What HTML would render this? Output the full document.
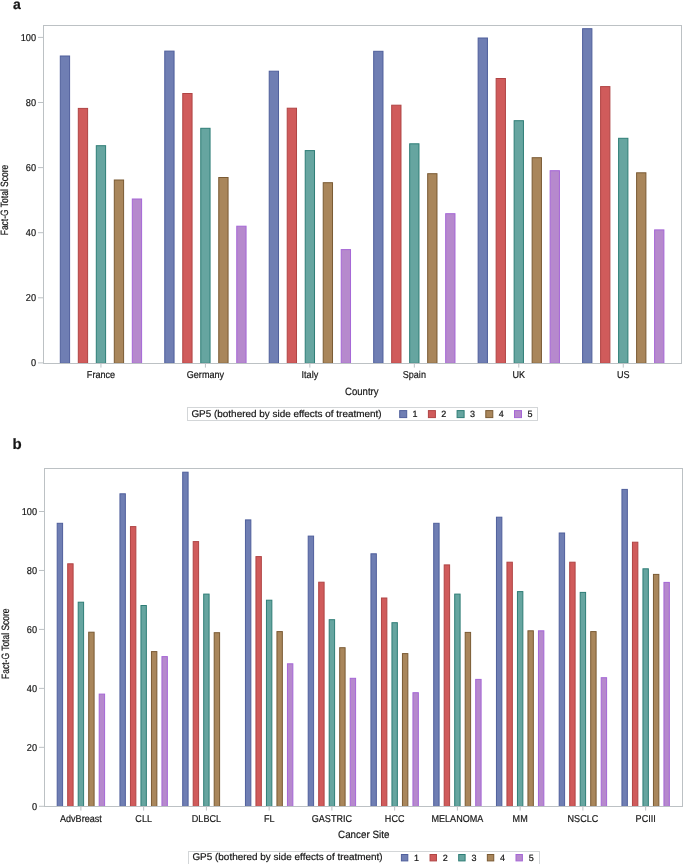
<!DOCTYPE html>
<html><head><meta charset="utf-8"><style>
html,body{margin:0;padding:0;background:#fff;}
body{width:685px;height:864px;overflow:hidden;}
svg{display:block;will-change:transform;}
text{font-family:"Liberation Sans",sans-serif;fill:#161616;stroke:#161616;stroke-width:0.2px;stroke-linejoin:round;stroke-linecap:round;text-rendering:geometricPrecision;}
</style></head><body>
<svg width="685" height="864" viewBox="0 0 685 864">
<rect width="685" height="864" fill="#fff"/>
<rect x="60.30" y="56.00" width="9.30" height="307.30" fill="#6F7EB3" stroke="#4F5F9C" stroke-width="1"/>
<rect x="78.30" y="108.40" width="9.30" height="254.90" fill="#D05B5B" stroke="#B04444" stroke-width="1"/>
<rect x="96.30" y="145.70" width="9.30" height="217.60" fill="#66A5A0" stroke="#2E7D76" stroke-width="1"/>
<rect x="114.30" y="180.00" width="9.30" height="183.30" fill="#A9865B" stroke="#7A5A33" stroke-width="1"/>
<rect x="132.30" y="199.00" width="9.30" height="164.30" fill="#B689CD" stroke="#A566D6" stroke-width="1"/>
<line x1="100.95" y1="364" x2="100.95" y2="367.6" stroke="#BCC1C4" stroke-width="1"/>
<text transform="translate(100.95,378) scale(0.905,1)" font-size="10" text-anchor="middle">France</text>
<rect x="164.76" y="51.10" width="9.30" height="312.20" fill="#6F7EB3" stroke="#4F5F9C" stroke-width="1"/>
<rect x="182.76" y="93.50" width="9.30" height="269.80" fill="#D05B5B" stroke="#B04444" stroke-width="1"/>
<rect x="200.76" y="128.30" width="9.30" height="235.00" fill="#66A5A0" stroke="#2E7D76" stroke-width="1"/>
<rect x="218.76" y="177.50" width="9.30" height="185.80" fill="#A9865B" stroke="#7A5A33" stroke-width="1"/>
<rect x="236.76" y="226.20" width="9.30" height="137.10" fill="#B689CD" stroke="#A566D6" stroke-width="1"/>
<line x1="205.41" y1="364" x2="205.41" y2="367.6" stroke="#BCC1C4" stroke-width="1"/>
<text transform="translate(205.41,378) scale(0.905,1)" font-size="10" text-anchor="middle">Germany</text>
<rect x="269.22" y="71.20" width="9.30" height="292.10" fill="#6F7EB3" stroke="#4F5F9C" stroke-width="1"/>
<rect x="287.22" y="108.20" width="9.30" height="255.10" fill="#D05B5B" stroke="#B04444" stroke-width="1"/>
<rect x="305.22" y="150.60" width="9.30" height="212.70" fill="#66A5A0" stroke="#2E7D76" stroke-width="1"/>
<rect x="323.22" y="182.70" width="9.30" height="180.60" fill="#A9865B" stroke="#7A5A33" stroke-width="1"/>
<rect x="341.22" y="249.60" width="9.30" height="113.70" fill="#B689CD" stroke="#A566D6" stroke-width="1"/>
<line x1="309.87" y1="364" x2="309.87" y2="367.6" stroke="#BCC1C4" stroke-width="1"/>
<text transform="translate(309.87,378) scale(0.905,1)" font-size="10" text-anchor="middle">Italy</text>
<rect x="373.68" y="51.30" width="9.30" height="312.00" fill="#6F7EB3" stroke="#4F5F9C" stroke-width="1"/>
<rect x="391.68" y="105.20" width="9.30" height="258.10" fill="#D05B5B" stroke="#B04444" stroke-width="1"/>
<rect x="409.68" y="143.80" width="9.30" height="219.50" fill="#66A5A0" stroke="#2E7D76" stroke-width="1"/>
<rect x="427.68" y="173.70" width="9.30" height="189.60" fill="#A9865B" stroke="#7A5A33" stroke-width="1"/>
<rect x="445.68" y="213.70" width="9.30" height="149.60" fill="#B689CD" stroke="#A566D6" stroke-width="1"/>
<line x1="414.33" y1="364" x2="414.33" y2="367.6" stroke="#BCC1C4" stroke-width="1"/>
<text transform="translate(414.33,378) scale(0.905,1)" font-size="10" text-anchor="middle">Spain</text>
<rect x="478.14" y="38.00" width="9.30" height="325.30" fill="#6F7EB3" stroke="#4F5F9C" stroke-width="1"/>
<rect x="496.14" y="78.50" width="9.30" height="284.80" fill="#D05B5B" stroke="#B04444" stroke-width="1"/>
<rect x="514.14" y="120.70" width="9.30" height="242.60" fill="#66A5A0" stroke="#2E7D76" stroke-width="1"/>
<rect x="532.14" y="157.70" width="9.30" height="205.60" fill="#A9865B" stroke="#7A5A33" stroke-width="1"/>
<rect x="550.14" y="170.70" width="9.30" height="192.60" fill="#B689CD" stroke="#A566D6" stroke-width="1"/>
<line x1="518.79" y1="364" x2="518.79" y2="367.6" stroke="#BCC1C4" stroke-width="1"/>
<text transform="translate(518.79,378) scale(0.905,1)" font-size="10" text-anchor="middle">UK</text>
<rect x="582.60" y="28.70" width="9.30" height="334.60" fill="#6F7EB3" stroke="#4F5F9C" stroke-width="1"/>
<rect x="600.60" y="86.60" width="9.30" height="276.70" fill="#D05B5B" stroke="#B04444" stroke-width="1"/>
<rect x="618.60" y="138.30" width="9.30" height="225.00" fill="#66A5A0" stroke="#2E7D76" stroke-width="1"/>
<rect x="636.60" y="172.80" width="9.30" height="190.50" fill="#A9865B" stroke="#7A5A33" stroke-width="1"/>
<rect x="654.60" y="229.90" width="9.30" height="133.40" fill="#B689CD" stroke="#A566D6" stroke-width="1"/>
<line x1="623.25" y1="364" x2="623.25" y2="367.6" stroke="#BCC1C4" stroke-width="1"/>
<text transform="translate(623.25,378) scale(0.905,1)" font-size="10" text-anchor="middle">US</text>
<rect x="43.5" y="25.5" width="638" height="338" fill="none" stroke="#BCC1C4" stroke-width="1"/>
<line x1="38" y1="362.90" x2="43" y2="362.90" stroke="#BCC1C4" stroke-width="1"/>
<text transform="translate(36.0,366.20) scale(0.92,1)" font-size="10" text-anchor="end">0</text>
<line x1="38" y1="297.80" x2="43" y2="297.80" stroke="#BCC1C4" stroke-width="1"/>
<text transform="translate(36.0,301.10) scale(0.92,1)" font-size="10" text-anchor="end">20</text>
<line x1="38" y1="232.70" x2="43" y2="232.70" stroke="#BCC1C4" stroke-width="1"/>
<text transform="translate(36.0,236.00) scale(0.92,1)" font-size="10" text-anchor="end">40</text>
<line x1="38" y1="167.60" x2="43" y2="167.60" stroke="#BCC1C4" stroke-width="1"/>
<text transform="translate(36.0,170.90) scale(0.92,1)" font-size="10" text-anchor="end">60</text>
<line x1="38" y1="102.50" x2="43" y2="102.50" stroke="#BCC1C4" stroke-width="1"/>
<text transform="translate(36.0,105.80) scale(0.92,1)" font-size="10" text-anchor="end">80</text>
<line x1="38" y1="37.40" x2="43" y2="37.40" stroke="#BCC1C4" stroke-width="1"/>
<text transform="translate(36.0,40.70) scale(0.92,1)" font-size="10" text-anchor="end">100</text>
<text transform="translate(7.8,235.3) rotate(-90)" font-size="10.6" textLength="70.6" lengthAdjust="spacingAndGlyphs">Fact-G Total Score</text>
<text x="361.8" y="394.6" font-size="10.5" text-anchor="middle" textLength="33.5" lengthAdjust="spacingAndGlyphs">Country</text>
<rect x="187.5" y="407.5" width="350" height="13" fill="#fff" stroke="#D3D6D8" stroke-width="1"/>
<text x="191.4" y="416.8" font-size="9.8" textLength="190.2" lengthAdjust="spacingAndGlyphs">GP5 (bothered by side effects of treatment)</text>
<rect x="399.70" y="410.60" width="7" height="7" fill="#6F7EB3" stroke="#4F5F9C" stroke-width="1"/>
<text x="412.60" y="416.8" font-size="9">1</text>
<rect x="428.40" y="410.60" width="7" height="7" fill="#D05B5B" stroke="#B04444" stroke-width="1"/>
<text x="441.30" y="416.8" font-size="9">2</text>
<rect x="457.10" y="410.60" width="7" height="7" fill="#66A5A0" stroke="#2E7D76" stroke-width="1"/>
<text x="470.00" y="416.8" font-size="9">3</text>
<rect x="485.80" y="410.60" width="7" height="7" fill="#A9865B" stroke="#7A5A33" stroke-width="1"/>
<text x="498.70" y="416.8" font-size="9">4</text>
<rect x="514.50" y="410.60" width="7" height="7" fill="#B689CD" stroke="#A566D6" stroke-width="1"/>
<text x="527.40" y="416.8" font-size="9">5</text>
<text x="13" y="8.6" font-size="14" font-weight="bold" fill="#000">a</text>
<rect x="57.20" y="523.30" width="5.40" height="283.10" fill="#6F7EB3" stroke="#4F5F9C" stroke-width="1"/>
<rect x="67.70" y="563.80" width="5.40" height="242.60" fill="#D05B5B" stroke="#B04444" stroke-width="1"/>
<rect x="78.20" y="602.20" width="5.40" height="204.20" fill="#66A5A0" stroke="#2E7D76" stroke-width="1"/>
<rect x="88.70" y="632.20" width="5.40" height="174.20" fill="#A9865B" stroke="#7A5A33" stroke-width="1"/>
<rect x="99.20" y="694.10" width="5.40" height="112.30" fill="#B689CD" stroke="#A566D6" stroke-width="1"/>
<line x1="80.90" y1="807" x2="80.90" y2="810.6" stroke="#BCC1C4" stroke-width="1"/>
<text transform="translate(80.90,821.5) scale(0.905,1)" font-size="10" text-anchor="middle">AdvBreast</text>
<rect x="119.95" y="493.80" width="5.40" height="312.60" fill="#6F7EB3" stroke="#4F5F9C" stroke-width="1"/>
<rect x="130.45" y="526.60" width="5.40" height="279.80" fill="#D05B5B" stroke="#B04444" stroke-width="1"/>
<rect x="140.95" y="605.50" width="5.40" height="200.90" fill="#66A5A0" stroke="#2E7D76" stroke-width="1"/>
<rect x="151.45" y="651.60" width="5.40" height="154.80" fill="#A9865B" stroke="#7A5A33" stroke-width="1"/>
<rect x="161.95" y="656.60" width="5.40" height="149.80" fill="#B689CD" stroke="#A566D6" stroke-width="1"/>
<line x1="143.65" y1="807" x2="143.65" y2="810.6" stroke="#BCC1C4" stroke-width="1"/>
<text transform="translate(143.65,821.5) scale(0.905,1)" font-size="10" text-anchor="middle">CLL</text>
<rect x="182.70" y="472.20" width="5.40" height="334.20" fill="#6F7EB3" stroke="#4F5F9C" stroke-width="1"/>
<rect x="193.20" y="541.60" width="5.40" height="264.80" fill="#D05B5B" stroke="#B04444" stroke-width="1"/>
<rect x="203.70" y="594.10" width="5.40" height="212.30" fill="#66A5A0" stroke="#2E7D76" stroke-width="1"/>
<rect x="214.20" y="632.70" width="5.40" height="173.70" fill="#A9865B" stroke="#7A5A33" stroke-width="1"/>
<line x1="206.40" y1="807" x2="206.40" y2="810.6" stroke="#BCC1C4" stroke-width="1"/>
<text transform="translate(206.40,821.5) scale(0.905,1)" font-size="10" text-anchor="middle">DLBCL</text>
<rect x="245.45" y="519.90" width="5.40" height="286.50" fill="#6F7EB3" stroke="#4F5F9C" stroke-width="1"/>
<rect x="255.95" y="556.60" width="5.40" height="249.80" fill="#D05B5B" stroke="#B04444" stroke-width="1"/>
<rect x="266.45" y="600.20" width="5.40" height="206.20" fill="#66A5A0" stroke="#2E7D76" stroke-width="1"/>
<rect x="276.95" y="631.60" width="5.40" height="174.80" fill="#A9865B" stroke="#7A5A33" stroke-width="1"/>
<rect x="287.45" y="663.80" width="5.40" height="142.60" fill="#B689CD" stroke="#A566D6" stroke-width="1"/>
<line x1="269.15" y1="807" x2="269.15" y2="810.6" stroke="#BCC1C4" stroke-width="1"/>
<text transform="translate(269.15,821.5) scale(0.905,1)" font-size="10" text-anchor="middle">FL</text>
<rect x="308.20" y="536.10" width="5.40" height="270.30" fill="#6F7EB3" stroke="#4F5F9C" stroke-width="1"/>
<rect x="318.70" y="582.20" width="5.40" height="224.20" fill="#D05B5B" stroke="#B04444" stroke-width="1"/>
<rect x="329.20" y="619.70" width="5.40" height="186.70" fill="#66A5A0" stroke="#2E7D76" stroke-width="1"/>
<rect x="339.70" y="647.70" width="5.40" height="158.70" fill="#A9865B" stroke="#7A5A33" stroke-width="1"/>
<rect x="350.20" y="678.30" width="5.40" height="128.10" fill="#B689CD" stroke="#A566D6" stroke-width="1"/>
<line x1="331.90" y1="807" x2="331.90" y2="810.6" stroke="#BCC1C4" stroke-width="1"/>
<text transform="translate(331.90,821.5) scale(0.905,1)" font-size="10" text-anchor="middle">GASTRIC</text>
<rect x="370.95" y="553.80" width="5.40" height="252.60" fill="#6F7EB3" stroke="#4F5F9C" stroke-width="1"/>
<rect x="381.45" y="598.00" width="5.40" height="208.40" fill="#D05B5B" stroke="#B04444" stroke-width="1"/>
<rect x="391.95" y="622.70" width="5.40" height="183.70" fill="#66A5A0" stroke="#2E7D76" stroke-width="1"/>
<rect x="402.45" y="653.60" width="5.40" height="152.80" fill="#A9865B" stroke="#7A5A33" stroke-width="1"/>
<rect x="412.95" y="692.70" width="5.40" height="113.70" fill="#B689CD" stroke="#A566D6" stroke-width="1"/>
<line x1="394.65" y1="807" x2="394.65" y2="810.6" stroke="#BCC1C4" stroke-width="1"/>
<text transform="translate(394.65,821.5) scale(0.905,1)" font-size="10" text-anchor="middle">HCC</text>
<rect x="433.70" y="523.30" width="5.40" height="283.10" fill="#6F7EB3" stroke="#4F5F9C" stroke-width="1"/>
<rect x="444.20" y="564.90" width="5.40" height="241.50" fill="#D05B5B" stroke="#B04444" stroke-width="1"/>
<rect x="454.70" y="594.10" width="5.40" height="212.30" fill="#66A5A0" stroke="#2E7D76" stroke-width="1"/>
<rect x="465.20" y="632.40" width="5.40" height="174.00" fill="#A9865B" stroke="#7A5A33" stroke-width="1"/>
<rect x="475.70" y="679.40" width="5.40" height="127.00" fill="#B689CD" stroke="#A566D6" stroke-width="1"/>
<line x1="457.40" y1="807" x2="457.40" y2="810.6" stroke="#BCC1C4" stroke-width="1"/>
<text transform="translate(457.40,821.5) scale(0.905,1)" font-size="10" text-anchor="middle">MELANOMA</text>
<rect x="496.45" y="517.20" width="5.40" height="289.20" fill="#6F7EB3" stroke="#4F5F9C" stroke-width="1"/>
<rect x="506.95" y="562.20" width="5.40" height="244.20" fill="#D05B5B" stroke="#B04444" stroke-width="1"/>
<rect x="517.45" y="591.60" width="5.40" height="214.80" fill="#66A5A0" stroke="#2E7D76" stroke-width="1"/>
<rect x="527.95" y="630.80" width="5.40" height="175.60" fill="#A9865B" stroke="#7A5A33" stroke-width="1"/>
<rect x="538.45" y="630.80" width="5.40" height="175.60" fill="#B689CD" stroke="#A566D6" stroke-width="1"/>
<line x1="520.15" y1="807" x2="520.15" y2="810.6" stroke="#BCC1C4" stroke-width="1"/>
<text transform="translate(520.15,821.5) scale(0.905,1)" font-size="10" text-anchor="middle">MM</text>
<rect x="559.20" y="533.00" width="5.40" height="273.40" fill="#6F7EB3" stroke="#4F5F9C" stroke-width="1"/>
<rect x="569.70" y="562.20" width="5.40" height="244.20" fill="#D05B5B" stroke="#B04444" stroke-width="1"/>
<rect x="580.20" y="592.40" width="5.40" height="214.00" fill="#66A5A0" stroke="#2E7D76" stroke-width="1"/>
<rect x="590.70" y="631.60" width="5.40" height="174.80" fill="#A9865B" stroke="#7A5A33" stroke-width="1"/>
<rect x="601.20" y="677.70" width="5.40" height="128.70" fill="#B689CD" stroke="#A566D6" stroke-width="1"/>
<line x1="582.90" y1="807" x2="582.90" y2="810.6" stroke="#BCC1C4" stroke-width="1"/>
<text transform="translate(582.90,821.5) scale(0.905,1)" font-size="10" text-anchor="middle">NSCLC</text>
<rect x="621.95" y="489.40" width="5.40" height="317.00" fill="#6F7EB3" stroke="#4F5F9C" stroke-width="1"/>
<rect x="632.45" y="542.20" width="5.40" height="264.20" fill="#D05B5B" stroke="#B04444" stroke-width="1"/>
<rect x="642.95" y="568.80" width="5.40" height="237.60" fill="#66A5A0" stroke="#2E7D76" stroke-width="1"/>
<rect x="653.45" y="574.40" width="5.40" height="232.00" fill="#A9865B" stroke="#7A5A33" stroke-width="1"/>
<rect x="663.95" y="582.40" width="5.40" height="224.00" fill="#B689CD" stroke="#A566D6" stroke-width="1"/>
<line x1="645.65" y1="807" x2="645.65" y2="810.6" stroke="#BCC1C4" stroke-width="1"/>
<text transform="translate(645.65,821.5) scale(0.905,1)" font-size="10" text-anchor="middle">PCIII</text>
<rect x="44.5" y="468.5" width="638" height="338" fill="none" stroke="#BCC1C4" stroke-width="1"/>
<line x1="39" y1="806.30" x2="44" y2="806.30" stroke="#BCC1C4" stroke-width="1"/>
<text transform="translate(37.0,809.60) scale(0.92,1)" font-size="10" text-anchor="end">0</text>
<line x1="39" y1="747.34" x2="44" y2="747.34" stroke="#BCC1C4" stroke-width="1"/>
<text transform="translate(37.0,750.64) scale(0.92,1)" font-size="10" text-anchor="end">20</text>
<line x1="39" y1="688.38" x2="44" y2="688.38" stroke="#BCC1C4" stroke-width="1"/>
<text transform="translate(37.0,691.68) scale(0.92,1)" font-size="10" text-anchor="end">40</text>
<line x1="39" y1="629.42" x2="44" y2="629.42" stroke="#BCC1C4" stroke-width="1"/>
<text transform="translate(37.0,632.72) scale(0.92,1)" font-size="10" text-anchor="end">60</text>
<line x1="39" y1="570.46" x2="44" y2="570.46" stroke="#BCC1C4" stroke-width="1"/>
<text transform="translate(37.0,573.76) scale(0.92,1)" font-size="10" text-anchor="end">80</text>
<line x1="39" y1="511.50" x2="44" y2="511.50" stroke="#BCC1C4" stroke-width="1"/>
<text transform="translate(37.0,514.80) scale(0.92,1)" font-size="10" text-anchor="end">100</text>
<text transform="translate(8.5,678.9) rotate(-90)" font-size="10.6" textLength="70.4" lengthAdjust="spacingAndGlyphs">Fact-G Total Score</text>
<text x="363.7" y="837.9" font-size="10.5" text-anchor="middle" textLength="51.3" lengthAdjust="spacingAndGlyphs">Cancer Site</text>
<rect x="188.5" y="851.5" width="351" height="13" fill="#fff" stroke="#D3D6D8" stroke-width="1"/>
<text x="192.4" y="860.3" font-size="9.8" textLength="190.3" lengthAdjust="spacingAndGlyphs">GP5 (bothered by side effects of treatment)</text>
<rect x="401.40" y="854.50" width="6.4" height="6.4" fill="#6F7EB3" stroke="#4F5F9C" stroke-width="1"/>
<text x="414.10" y="860.7" font-size="9">1</text>
<rect x="430.05" y="854.50" width="6.4" height="6.4" fill="#D05B5B" stroke="#B04444" stroke-width="1"/>
<text x="442.75" y="860.7" font-size="9">2</text>
<rect x="458.70" y="854.50" width="6.4" height="6.4" fill="#66A5A0" stroke="#2E7D76" stroke-width="1"/>
<text x="471.40" y="860.7" font-size="9">3</text>
<rect x="487.35" y="854.50" width="6.4" height="6.4" fill="#A9865B" stroke="#7A5A33" stroke-width="1"/>
<text x="500.05" y="860.7" font-size="9">4</text>
<rect x="516.00" y="854.50" width="6.4" height="6.4" fill="#B689CD" stroke="#A566D6" stroke-width="1"/>
<text x="528.70" y="860.7" font-size="9">5</text>
<text x="12.4" y="449.4" font-size="15" font-weight="bold" fill="#000">b</text>
</svg>
</body></html>
